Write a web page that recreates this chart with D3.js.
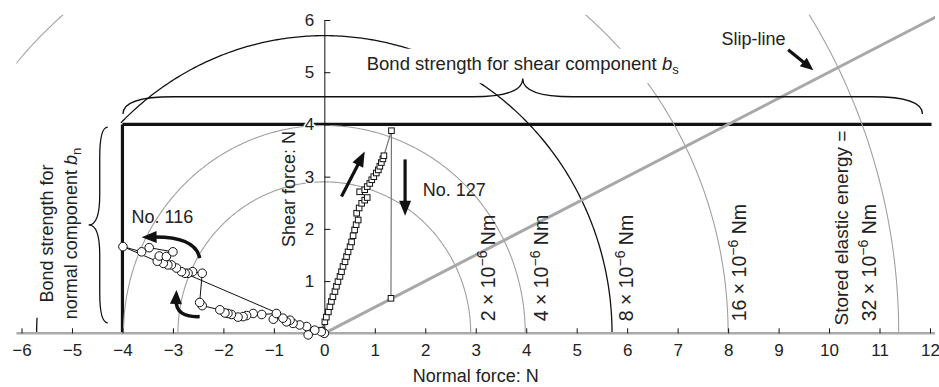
<!DOCTYPE html>
<html><head><meta charset="utf-8">
<script src="https://cdn.jsdelivr.net/npm/d3@7"></script>
<style>
body{margin:0;background:#fff}
text{font-family:"Liberation Sans",Arial,sans-serif;fill:#222}
</style></head><body>
<svg width="939" height="387"></svg>
<script>
// tick labels
var xTicks = [-6,-5,-4,-3,-2,-1,0,1,2,3,4,5,6,7,8,9,10,11,12];
var yTicks = [1,2,3,4,5,6];

// stored elastic energy contours (x 10^-6 Nm) and their radius in N
var energyLevels = ["2","4","8","16","32"];
var energyRadius = [2.9, 3.98, 5.7, 8.0, 11.38];
var energyLabelX = [3.39, 4.43, 6.12, 8.36, 10.94];

// bond strength limits
var bondNormal = -4;
var bondShear = 4;

// slip-line: shear = 0.5 * normal
var slipSlope = 0.5;

// No. 116 (circles)
var no116X = [0.0,-0.06,-0.19,-0.32,-0.35,-0.49,-0.62,-0.68,-0.75,-0.82,-1.01,-0.95,-1.24,-1.41,-1.54,-1.61,-1.71,-1.84,-1.91,-1.97,-2.07,-2.42,-2.47,
              -2.42,-2.61,-2.70,-2.76,-2.83,-2.93,-3.03,-3.10,-3.19,-3.31,-3.27,-3.13,-3.00,-3.47,-3.62,-3.99];
var no116Y = [0.0,0.03,0.06,-0.03,0.13,0.16,0.19,0.25,0.22,0.29,0.27,0.38,0.36,0.38,0.34,0.32,0.31,0.36,0.38,0.39,0.45,0.53,0.59,
              1.15,1.18,1.15,1.15,1.18,1.25,1.31,1.31,1.34,1.38,1.48,1.47,1.56,1.64,1.56,1.66];

// No. 127 (squares)
var no127X = [0.0,-0.06,0.01,0.04,0.08,0.11,0.14,0.17,0.21,0.24,0.27,0.31,0.34,0.37,0.41,0.44,0.47,0.51,0.54,0.57,0.60,0.63,0.67,0.64,0.69,0.74,0.80,0.85,0.70,0.80,0.85,0.90,0.94,0.98,1.03,1.07,1.10,1.13,1.16,1.18,1.33,1.32];
var no127Y = [0.0,0.06,0.22,0.31,0.41,0.51,0.61,0.70,0.80,0.90,0.99,1.09,1.18,1.28,1.37,1.47,1.56,1.66,1.75,1.87,1.98,2.08,2.17,2.30,2.40,2.49,2.55,2.60,2.71,2.75,2.81,2.87,2.94,3.00,3.07,3.13,3.20,3.27,3.34,3.40,3.88,0.67];

var svg = d3.select("svg");

var x = d3.scaleLinear().domain([-6, 12]).range([21.5, 930]);
var y = d3.scaleLinear().domain([0, 6]).range([333.3, 20]);

svg.append("clipPath").attr("id","plot").append("rect")
   .attr("x", x(-6.1)).attr("y", y(6.1))
   .attr("width", x(12.1)-x(-6.1)).attr("height", y(-0.1)-y(6.1));

//linee limite di resistenza
svg.append("line").attr("x1", x(bondNormal)).attr("x2", x(12.03))
   .attr("y1", y(bondShear)).attr("y2", y(bondShear))
   .attr("stroke","#111").attr("stroke-width",3.2);
svg.append("line").attr("x1", x(bondNormal)).attr("x2", x(bondNormal))
   .attr("y1", y(0)).attr("y2", y(bondShear))
   .attr("stroke","#111").attr("stroke-width",3.2);

var plot = svg.append("g").attr("clip-path","url(#plot)");

//contorni energia
function arcPath(r, a0, a1){
  var pts = d3.range(a0, a1+0.001, 0.5).map(function(a){
    var t = a*Math.PI/180;
    return [x(r*Math.cos(t)), y(r*Math.sin(t))];
  });
  return d3.line()(pts);
}
energyRadius.forEach(function(r, i){
  var black = energyLevels[i] == "8";
  var segs = black ? [[0,135],[177,180]] : [[0,180]];
  segs.forEach(function(s){
    plot.append("path").attr("d", arcPath(r, s[0], s[1]))
       .attr("fill","none")
       .attr("stroke", black ? "#111" : "#a0a0a0")
       .attr("stroke-width", black ? 1.3 : 1.1);
  });
});

//slip-line
plot.append("line")
   .attr("x1", x(0)).attr("y1", y(0))
   .attr("x2", x(12.2)).attr("y2", y(12.2*slipSlope))
   .attr("stroke","#a8a8a8").attr("stroke-width",3);

//sfondo bianco per la scritta in alto
svg.append("rect").attr("x", x(0.75)).attr("y", y(5.45))
   .attr("width", x(7.3)-x(0.75)).attr("height", y(4.79)-y(5.45))
   .attr("fill","#fff");

//parentesi graffe
function hBrace(x1, x2, ys, ye, yt){
  var xm = (x1+x2)/2, c = 50;
  return "M"+x1+","+ye+" Q"+x1+","+ys+" "+(x1+c)+","+ys+" L"+(xm-c)+","+ys+
         " Q"+xm+","+ys+" "+xm+","+yt+" Q"+xm+","+ys+" "+(xm+c)+","+ys+
         " L"+(x2-c)+","+ys+" Q"+x2+","+ys+" "+x2+","+ye;
}
function vBrace(y1, y2, xs, xe, xt){
  var ym = (y1+y2)/2, c = 30;
  return "M"+xe+","+y1+" Q"+xs+","+y1+" "+xs+","+(y1+c)+" L"+xs+","+(ym-c)+
         " Q"+xs+","+ym+" "+xt+","+ym+" Q"+xs+","+ym+" "+xs+","+(ym+c)+
         " L"+xs+","+(y2-c)+" Q"+xs+","+y2+" "+xe+","+y2;
}
svg.append("path")
   .attr("d", hBrace(x(-3.99), x(11.85), y(4.53), y(4.2), y(4.88)))
   .attr("fill","none").attr("stroke","#111").attr("stroke-width",1.3);
svg.append("path")
   .attr("d", vBrace(y(3.95), y(0.2), x(-4.45), x(-4.29), x(-4.67)))
   .attr("fill","none").attr("stroke","#111").attr("stroke-width",1.3);

//asse x
svg.append("line").attr("x1", x(-6.1)).attr("x2", x(12.1))
   .attr("y1", y(0)).attr("y2", y(0))
   .attr("stroke","#aaa").attr("stroke-width",2.5);
var xAxis = svg.append("g").attr("transform","translate(0,"+y(0)+")")
   .call(d3.axisBottom(x).tickValues(xTicks).tickFormat(d3.format("d"))
          .tickSizeInner(-5).tickSizeOuter(0).tickPadding(11));
xAxis.select(".domain").remove();
xAxis.selectAll(".tick line").attr("stroke","#111");
xAxis.selectAll("text").attr("font-size",17).attr("font-family","Liberation Sans, Arial, sans-serif").attr("fill","#222");

//asse y
var yAxis = svg.append("g").attr("transform","translate("+x(0)+",0)")
   .call(d3.axisLeft(y).tickValues(yTicks).tickFormat(d3.format("d"))
          .tickSizeInner(-6).tickSizeOuter(0).tickPadding(10));
yAxis.select(".domain").attr("stroke","#111");
yAxis.selectAll(".tick line").attr("stroke","#111");
yAxis.selectAll("text").attr("font-size",17).attr("font-family","Liberation Sans, Arial, sans-serif")
   .attr("fill","#222").attr("stroke","#fff").attr("stroke-width",3).attr("paint-order","stroke");

svg.append("text").attr("x", (x(-6)+x(12))/2).attr("y", 382)
   .attr("text-anchor","middle").attr("font-size",18).text("Normal force: N");
svg.append("text").attr("transform","translate(295,189) rotate(-90)")
   .attr("text-anchor","middle").attr("font-size",18).text("Shear force: N");

//dati No. 116
var d116 = no116X.map(function(v,i){ return [v, no116Y[i]]; });
var line = d3.line().x(function(d){return x(d[0]);}).y(function(d){return y(d[1]);});
svg.append("path").attr("d", line([d116[d116.length-1], [0,0]]))
   .attr("fill","none").attr("stroke","#111").attr("stroke-width",1);
svg.append("path").attr("d", line(d116))
   .attr("fill","none").attr("stroke","#111").attr("stroke-width",1);

//dati No. 127
var d127 = no127X.map(function(v,i){ return [v, no127Y[i]]; });
svg.append("path").attr("d", line(d127.slice(0, d127.length-2)))
   .attr("fill","none").attr("stroke","#111").attr("stroke-width",1);
svg.append("path").attr("d", line(d127.slice(d127.length-3)))
   .attr("fill","none").attr("stroke","#777").attr("stroke-width",1.2);
svg.selectAll(".sq").data(d127).enter().append("rect")
   .attr("class","sq")
   .attr("x", function(d){return x(d[0])-2.8;})
   .attr("y", function(d){return y(d[1])-2.8;})
   .attr("width",5.6).attr("height",5.6)
   .attr("fill","#fff").attr("stroke","#111").attr("stroke-width",1);
svg.selectAll(".ci").data(d116).enter().append("circle")
   .attr("class","ci")
   .attr("cx", function(d){return x(d[0]);})
   .attr("cy", function(d){return y(d[1]);})
   .attr("r",4.3)
   .attr("fill","#fff").attr("stroke","#111").attr("stroke-width",1);

//frecce
function arrow(pts, w, headL, headW){
  var P = pts.map(function(p){ return [x(p[0]), y(p[1])]; });
  var tip = P[P.length-1], prev = P[P.length-2];
  var dx = tip[0]-prev[0], dy = tip[1]-prev[1], len = Math.hypot(dx,dy);
  var ux = dx/len, uy = dy/len;
  var bx = tip[0]-ux*headL, by = tip[1]-uy*headL;
  var sx = tip[0]-ux*headL*0.7, sy = tip[1]-uy*headL*0.7;
  var d = P.length == 3 ? "M"+P[0]+" Q"+P[1]+" "+sx+","+sy : "M"+P[0]+" L"+sx+","+sy;
  svg.append("path").attr("d", d).attr("fill","none").attr("stroke","#111").attr("stroke-width",w);
  svg.append("path")
     .attr("d","M"+tip+" L"+(bx-uy*headW/2)+","+(by+ux*headW/2)+" L"+(bx+uy*headW/2)+","+(by-ux*headW/2)+"Z")
     .attr("fill","#111");
}
arrow([[0.34,2.62],[0.80,3.48]], 3.2, 15, 12);
arrow([[1.60,3.33],[1.60,2.25]], 3.2, 15, 12);
arrow([[9.19,5.43],[9.69,5.04]], 3.2, 13, 11);
arrow([[-2.47,1.44],[-2.55,1.86],[-3.62,1.84]], 3.5, 15, 12);
arrow([[-2.47,0.32],[-2.95,0.30],[-2.93,0.83]], 3.5, 14, 12);

//scritte
svg.append("text").attr("x", x(-3.82)).attr("y", y(2.12)).attr("font-size",18).text("No. 116");
svg.append("text").attr("x", x(1.95)).attr("y", y(2.62)).attr("font-size",18).text("No. 127");
svg.append("text").attr("x", x(7.87)).attr("y", y(5.53)).attr("font-size",18).text("Slip-line");

var shearTxt = svg.append("text").attr("x", x(0.84)).attr("y", y(5.05)).attr("font-size",18.5);
shearTxt.append("tspan").text("Bond strength for shear component ");
shearTxt.append("tspan").attr("font-style","italic").text("b");
shearTxt.append("tspan").attr("font-size",13).attr("dy",4).text("s");

var normalTxt = svg.append("text").attr("transform","translate("+x(-5.38)+",233.5) rotate(-90)")
   .attr("text-anchor","middle").attr("font-size",18);
normalTxt.append("tspan").attr("x",0).attr("y",0).text("Bond strength for");
var l2 = normalTxt.append("tspan").attr("x",0).attr("y",24);
l2.append("tspan").text("normal component ");
l2.append("tspan").attr("font-style","italic").text("b");
l2.append("tspan").attr("font-size",13).attr("dy",4).text("n");

energyLevels.forEach(function(e, i){
  var t = svg.append("text")
     .attr("transform","translate("+x(energyLabelX[i])+","+y(0.23)+") rotate(-90)")
     .attr("font-size",19.5);
  t.append("tspan").text(e+" \u00d7 10");
  t.append("tspan").attr("font-size",14).attr("dy",-8).text("\u2212"+"6");
  t.append("tspan").attr("dy",8).text(" Nm");
});
svg.append("text")
   .attr("transform","translate("+x(10.38)+","+y(0.15)+") rotate(-90)")
   .attr("font-size",19).text("Stored elastic energy =");
</script></body></html>
